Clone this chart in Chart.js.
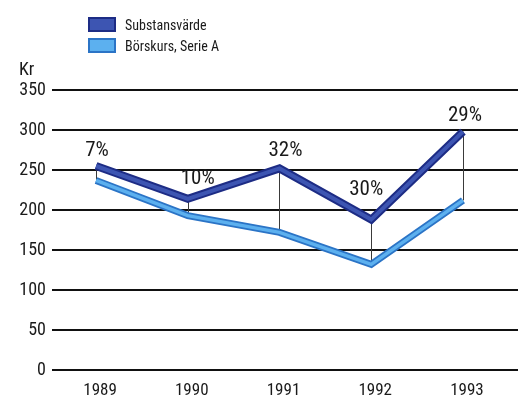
<!DOCTYPE html>
<html>
<head>
<meta charset="utf-8">
<script src="https://cdn.jsdelivr.net/npm/chart.js@4/dist/chart.umd.min.js"></script>
<style>
  html, body { margin: 0; padding: 0; background: #fff; }
  #wrap { position: relative; width: 518px; height: 405px; overflow: hidden; }
  #chart { position: absolute; left: 0; top: 0; }
  .narrow { font-family: 'Roboto Condensed', 'Open Sans', sans-serif; font-stretch: condensed; color: #1a1a1a; }
  #legend { position: absolute; left: 88px; top: 14px; }
  .item { display: flex; align-items: center; height: 21px; font-size: 14px; }
  .box { width: 28px; height: 15px; margin-right: 9px; box-sizing: border-box; border: 2px solid; }
  #unit { position: absolute; left: 19px; top: 58px; font-size: 18px; }
</style>
</head>
<body>
<div id="wrap">
  <canvas id="chart" width="518" height="405"></canvas>
  <div id="legend" class="narrow"></div>
  <div id="unit" class="narrow">Kr</div>
</div>
<script>
// Years on the x axis
const years = [1989, 1990, 1991, 1992, 1993];
// Net asset value per share (Kr)
const substansvarde = [255, 214, 252, 188, 298];
// Share price, Series A (Kr)
const borskurs = [237, 193, 172, 132, 212];
// Discount of share price to net asset value, printed above each year
const rabattLabels = ['7%', '10%', '32%', '30%', '29%'];
// Y axis ticks
const yTicks = [0, 50, 100, 150, 200, 250, 300, 350];

const FONT = "'Roboto Condensed', 'Open Sans', sans-serif";

const series = [
  { label: 'Substansvärde', values: substansvarde, edge: '#1d2c85', core: '#3d55b2', edgeW: 8, coreW: 4 },
  { label: 'Börskurs, Serie A', values: borskurs, edge: '#2b74c6', core: '#5cb0ef', edgeW: 7, coreW: 3.5 }
];

const toXY = vals => years.map((y, i) => ({ x: y, y: vals[i] }));

const datasets = [];
series.forEach((s, k) => {
  datasets.push({
    label: s.label, data: toXY(s.values), borderColor: s.edge, borderWidth: s.edgeW,
    pointRadius: 0, tension: 0, borderJoinStyle: 'miter', borderCapStyle: 'butt',
    order: 10 + k * 2 + 1, legendItem: true, legendFill: s.core
  });
  datasets.push({
    label: s.label + ' core', data: toXY(s.values), borderColor: s.core, borderWidth: s.coreW,
    pointRadius: 0, tension: 0, borderJoinStyle: 'miter', borderCapStyle: 'butt',
    order: 10 + k * 2
  });
});

// thin connectors between the two series at each year, and the discount labels
const annotate = {
  id: 'annotate',
  beforeDatasetsDraw(chart) {
    const { ctx, scales: { x, y } } = chart;
    ctx.save();
    ctx.strokeStyle = '#3a3a3a';
    ctx.lineWidth = 1;
    years.forEach((yr, i) => {
      const px = Math.round(x.getPixelForValue(yr)) + 0.5;
      ctx.beginPath();
      ctx.moveTo(px, y.getPixelForValue(substansvarde[i]));
      ctx.lineTo(px, y.getPixelForValue(borskurs[i]));
      ctx.stroke();
    });
    ctx.restore();
  },
  afterDatasetsDraw(chart) {
    const { ctx, scales: { x, y } } = chart;
    const nudge = [[1, -15], [10, -20], [6, -18], [-5, -30], [2, -16]];
    ctx.save();
    ctx.font = '21px ' + FONT;
    ctx.fillStyle = '#1a1a1a';
    ctx.textAlign = 'center';
    ctx.textBaseline = 'middle';
    years.forEach((yr, i) => {
      const px = x.getPixelForValue(yr) + nudge[i][0];
      const py = y.getPixelForValue(substansvarde[i]) + nudge[i][1];
      ctx.fillText(rabattLabels[i], px, py);
    });
    ctx.restore();
  }
};

const chart = new Chart(document.getElementById('chart'), {
  type: 'line',
  data: { datasets },
  options: {
    responsive: false,
    animation: false,
    layout: { padding: { top: 90, right: 0, bottom: 0, left: 0 } },
    plugins: { legend: { display: false }, tooltip: { enabled: false } },
    scales: {
      x: {
        type: 'linear',
        min: 1988.52, max: 1993.6,
        grid: { display: false },
        border: { display: false },
        afterBuildTicks(scale) { scale.ticks = years.map(v => ({ value: v })); },
        afterFit(scale) { scale.height = 35; },
        ticks: {
          padding: 3,
          labelOffset: 4,
          color: '#1a1a1a',
          font: { family: FONT, size: 17 },
          callback: v => String(v)
        }
      },
      y: {
        min: 0, max: 350,
        afterBuildTicks(scale) { scale.ticks = yTicks.map(v => ({ value: v })); },
        afterFit(scale) { scale.width = 52; },
        grid: { color: '#111', lineWidth: 2, drawTicks: false },
        border: { display: false },
        ticks: {
          padding: 6,
          color: '#1a1a1a',
          font: { family: FONT, size: 18 }
        }
      }
    }
  },
  plugins: [annotate]
});

// Legend built from the chart's own datasets
const legend = document.getElementById('legend');
chart.data.datasets.filter(d => d.legendItem).forEach(d => {
  const item = document.createElement('div');
  item.className = 'item';
  const box = document.createElement('span');
  box.className = 'box';
  box.style.background = d.legendFill;
  box.style.borderColor = d.borderColor;
  const txt = document.createElement('span');
  txt.textContent = d.label;
  item.appendChild(box);
  item.appendChild(txt);
  legend.appendChild(item);
});
</script>
</body>
</html>
